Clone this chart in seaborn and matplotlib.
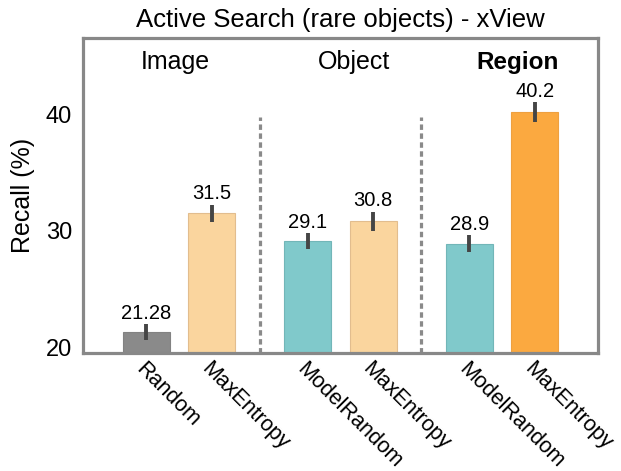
"""Active search recall on rare xView objects: grouped bar chart by search granularity."""
import matplotlib

matplotlib.use("Agg")
import matplotlib.pyplot as plt
import pandas as pd
import seaborn as sns

# values
groups = ["Image", "Image", "Object", "Object", "Region", "Region"]
methods = ["Random", "MaxEntropy", "ModelRandom", "MaxEntropy", "ModelRandom", "MaxEntropy"]
color_keys = ["random", "maxent", "modelrandom", "maxent", "modelrandom", "maxent_region"]
recall = [21.28, 31.5, 29.1, 30.8, 28.9, 40.2]
recall_err = [0.7, 0.75, 0.7, 0.85, 0.7, 0.85]
value_labels = ["21.28", "31.5", "29.1", "30.8", "28.9", "40.2"]
group_names = ["Image", "Object", "Region"]

palette = {
    "random": "#8a8a8a",
    "maxent": "#fad59e",
    "modelrandom": "#80c9cb",
    "maxent_region": "#fba940",
}
edge_colors = {
    "random": "#828282",
    "maxent": "#e2bd8e",
    "modelrandom": "#72b6b8",
    "maxent_region": "#eea040",
}

GROUP_STEP = 2.47  # distance between the first bars of neighbouring groups
group_idx = {g: i for i, g in enumerate(group_names)}
slot = []
seen = {}
for g in groups:
    slot.append(seen.get(g, 0))
    seen[g] = seen.get(g, 0) + 1
xpos = [group_idx[g] * GROUP_STEP + s for g, s in zip(groups, slot)]

df = pd.DataFrame({"x": xpos, "recall": recall, "key": color_keys})

sns.set_style("white")
plt.rcParams["font.family"] = ["Liberation Sans", "DejaVu Sans"]
plt.rcParams["text.color"] = "black"
plt.rcParams["xtick.color"] = "black"
plt.rcParams["ytick.color"] = "black"
plt.rcParams["axes.labelcolor"] = "black"

fig = plt.figure(figsize=(6.21, 4.71), dpi=100)
ax = fig.add_axes([0.1337, 0.2505, 0.8293, 0.6685])

sns.barplot(
    data=df, x="x", y="recall", hue="key", palette=palette, saturation=1,
    native_scale=True, dodge=False, width=0.72, legend=False, ax=ax,
)
# patches come out in hue order, so match them back to rows by position
for bar in ax.patches:
    cx = bar.get_x() + bar.get_width() / 2
    i = min(range(len(xpos)), key=lambda k: abs(xpos[k] - cx))
    bar.set_edgecolor(edge_colors[color_keys[i]])
    bar.set_linewidth(0.8)

ax.errorbar(xpos, recall, yerr=recall_err, fmt="none", ecolor="#454545",
            elinewidth=2.8, capsize=0, zorder=5)

for x, y, e, lab in zip(xpos, recall, recall_err, value_labels):
    ax.text(x, y + e + 0.1, lab, ha="center", va="bottom", fontsize=14.5)

y_lo, y_hi = 19.5, 46.55
ax.set_ylim(y_lo, y_hi)
ax.set_xlim(-0.97, 6.91)

# dashed separators between groups
for g in range(1, len(group_names)):
    prev_last = max(x for x, gg in zip(xpos, groups) if group_idx[gg] == g - 1)
    next_first = min(x for x, gg in zip(xpos, groups) if group_idx[gg] == g)
    ax.vlines((prev_last + next_first) / 2, y_lo, 39.78, colors="#8a8a8a",
              linewidth=2.3, linestyles=(0, (1.7, 1.1)))

# group headers
header_x = [0.44, 3.18, 5.68]
for name, hx in zip(group_names, header_x):
    ax.text(hx, 44.5, name, ha="center", va="center", fontsize=18 if name != "Region" else 17.5,
            fontweight="bold" if name == "Region" else "normal")

ax.set_xticks(xpos)
ax.set_xticklabels(methods, rotation=-45, ha="left", va="top",
                   rotation_mode="anchor", fontsize=15.5)
ax.set_yticks([20, 30, 40])
ax.tick_params(axis="both", length=0, labelsize=17)
ax.tick_params(axis="x", pad=4, labelsize=15.5)
ax.tick_params(axis="y", pad=8)
ax.set_xlabel("")
ax.set_ylabel("Recall (%)", fontsize=18, labelpad=8)
ax.set_title("Active Search (rare objects) - xView", fontsize=18.5, pad=8)

for spine in ax.spines.values():
    spine.set_color("#888888")
    spine.set_linewidth(2.3)

fig.savefig("out.png", dpi=100)
plt.close(fig)
